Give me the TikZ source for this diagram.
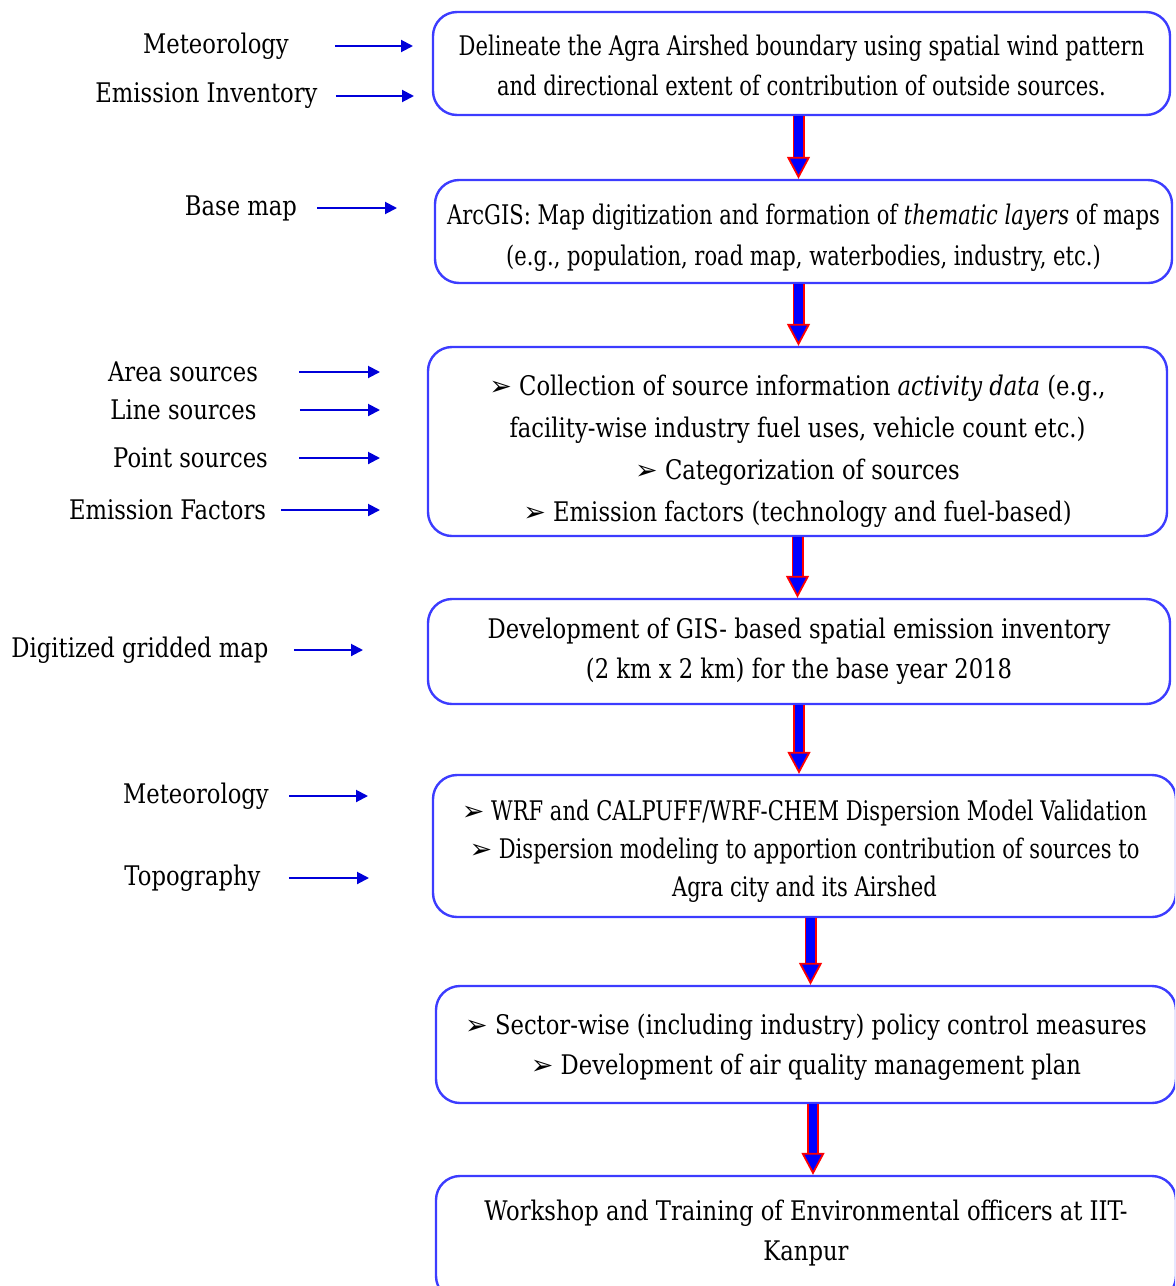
\documentclass[tikz,border=0pt]{standalone}
\usepackage{fontspec}
\setmainfont{DejaVu Serif}[FakeStretch=0.84]
\newfontfamily\tightfont{DejaVu Serif}[FakeStretch=0.78]
\newfontfamily\bulletfont{DejaVu Sans}
\usetikzlibrary{positioning,arrows.meta}
\definecolor{boxblue}{RGB}{60,60,255}
\newcommand{\Pointer}{{\bulletfont\char"27A2}\ }
\newcommand{\TopGap}[1]{\rule{0pt}{#1}}
\tikzstyle{StepBox}=[rectangle, rounded corners=12pt, draw=boxblue, line width=1.2pt, align=center, inner sep=0pt, font=\fontsize{13.5pt}{20pt}\selectfont]
\tikzstyle{InputLabel}=[inner sep=0pt, font=\fontsize{13.5pt}{20pt}\selectfont]
\tikzstyle{InputArrow}=[-{Triangle[length=6pt, width=6pt]}, line width=1pt, color=blue!85!black]
\tikzstyle{BigArrow}=[-{Triangle[length=11pt, width=11.5pt, color=red, fill=blue, line width=0.9pt]}, draw=red, line width=0.9pt, double=blue, double distance=4.2pt]

\begin{document}
\begin{tikzpicture}[x=0.5pt, y=-0.5pt]
			\clip (0,0) rectangle (1175,1286);
			\useasboundingbox (0,0) rectangle (1175,1286);

			%Cajas
			\node[StepBox, minimum width=368.5pt, minimum height=51.5pt, font=\fontsize{13.5pt}{20pt}\tightfont] (airshed) at (801.5,63.5)
				{\TopGap{12pt}Delineate the Agra Airshed boundary using spatial wind pattern\\ and directional extent of contribution of outside sources.};
			\node[StepBox, minimum width=368.5pt, minimum height=51.5pt, font=\fontsize{13.5pt}{20.5pt}\tightfont] (arcgis) at (803.5,231.5)
				{\TopGap{16.5pt}ArcGIS: Map digitization and formation of \textit{thematic layers} of maps\\ (e.g., population, road map, waterbodies, industry, etc.)};
			\node[StepBox, minimum width=369.5pt, minimum height=94.5pt] (collect) at (797.5,441.5)
				{\TopGap{19.5pt}\Pointer Collection of source information \textit{activity data} (e.g.,\\[1pt] facility-wise industry fuel uses, vehicle count etc.)\\[1pt] \Pointer Categorization of sources\\[1pt] \Pointer Emission factors (technology and fuel-based)};
			\node[StepBox, minimum width=371pt, minimum height=52.5pt] (inventory) at (799,651.5)
				{Development of GIS- based spatial emission inventory\\ (2 km x 2 km) for the base year 2018};
			\node[StepBox, minimum width=371.5pt, minimum height=71pt, font=\fontsize{13.5pt}{19pt}\tightfont] (dispersion) at (804.5,846)
				{\TopGap{15.5pt}\Pointer WRF and CALPUFF/WRF-CHEM Dispersion Model Validation\\ \Pointer Dispersion modeling to apportion contribution of sources to\\ Agra city and its Airshed};
			\node[StepBox, minimum width=370pt, minimum height=58.5pt] (policy) at (806,1044.5)
				{\TopGap{12.5pt}\Pointer Sector-wise (including industry) policy control measures\\ \Pointer Development of air quality management plan};
			\node[StepBox, minimum width=370pt, minimum height=62pt] (workshop) at (806,1238)
				{Workshop and Training of Environmental officers at IIT-\\ Kanpur\rule[-8pt]{0pt}{0pt}};

			%Flechas grandes
			\draw[BigArrow] ([xshift=-1.5pt]airshed.south) -- ([xshift=-1.5pt]airshed.south |- arcgis.north);
			\draw[BigArrow] ([xshift=-2.5pt]arcgis.south) -- ([xshift=-2.5pt]arcgis.south |- collect.north);
			\draw[BigArrow] (collect.south) -- (collect.south |- inventory.north);
			\draw[BigArrow] (inventory.south) -- (inventory.south |- dispersion.north);
			\draw[BigArrow] ([xshift=3pt]dispersion.south) -- ([xshift=3pt]dispersion.south |- policy.north);
			\draw[BigArrow] ([xshift=3.5pt]policy.south) -- ([xshift=3.5pt]policy.south |- workshop.north);

			%Entradas
			\node[InputLabel] (met1) at (216,46) {Meteorology};
			\node[InputLabel] (emis) at (206.5,96) {Emission Inventory};
			\node[InputLabel] (basemap) at (241,208) {Base map};
			\node[InputLabel] (area) at (183,372) {Area sources};
			\node[InputLabel] (line) at (183.5,410) {Line sources};
			\node[InputLabel] (point) at (190.5,458) {Point sources};
			\node[InputLabel] (factors) at (167.5,510) {Emission Factors};
			\node[InputLabel] (gridmap) at (140,650) {Digitized gridded map};
			\node[InputLabel] (met2) at (196,796) {Meteorology};
			\node[InputLabel] (topo) at (192.5,878) {Topography};

			\coordinate (met1_end) at (413,46);
			\coordinate (emis_end) at (414,96);
			\coordinate (basemap_end) at (397,208);
			\coordinate (area_end) at (380,372);
			\coordinate (line_end) at (380,410);
			\coordinate (point_end) at (380,458);
			\coordinate (factors_end) at (380,510);
			\coordinate (gridmap_end) at (363,650);
			\coordinate (met2_end) at (368,796);
			\coordinate (topo_end) at (369,878);

			%Lineas
			\draw[InputArrow, shorten <=23pt] (met1) -- (met1_end);
			\draw[InputArrow, shorten <=9pt] (emis) -- (emis_end);
			\draw[InputArrow, shorten <=10pt] (basemap) -- (basemap_end);
			\draw[InputArrow, shorten <=20.5pt] (area) -- (area_end);
			\draw[InputArrow, shorten <=21.5pt] (line) -- (line_end);
			\draw[InputArrow, shorten <=15.5pt] (point) -- (point_end);
			\draw[InputArrow, shorten <=7.5pt] (factors) -- (factors_end);
			\draw[InputArrow, shorten <=12.5pt] (gridmap) -- (gridmap_end);
			\draw[InputArrow, shorten <=10pt] (met2) -- (met2_end);
			\draw[InputArrow, shorten <=14pt] (topo) -- (topo_end);

		\end{tikzpicture}
\end{document}
